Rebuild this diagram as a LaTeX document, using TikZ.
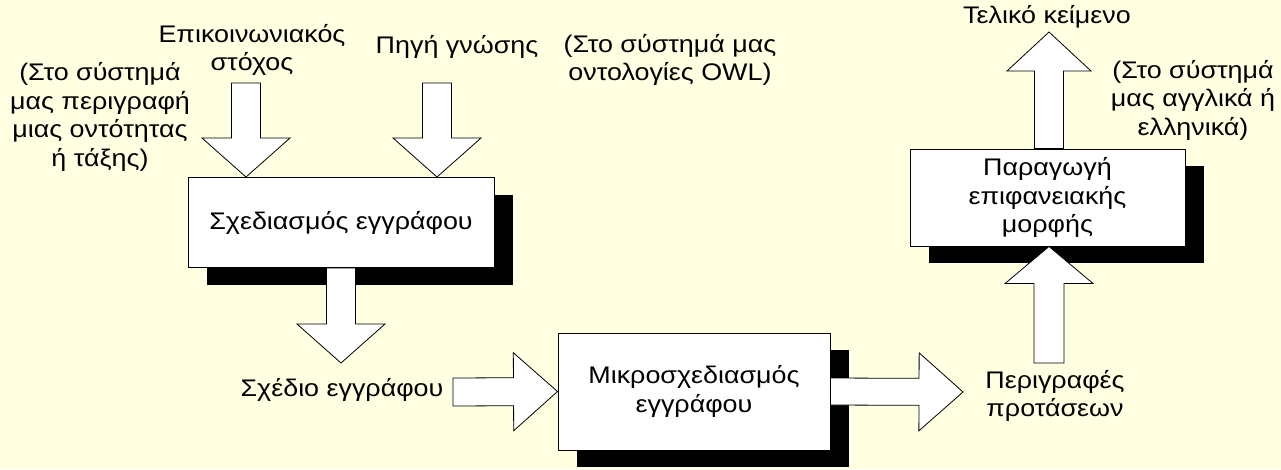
\documentclass[tikz,border=0pt]{standalone}
\usepackage{fontspec}
\setmainfont{Liberation Sans}[FakeStretch=1.12]
\usepackage{xcolor}
\definecolor{paperYellow}{RGB}{255,255,226}
\usetikzlibrary{calc, shadows, positioning}
\tikzset{
  stage/.style={draw, fill=white, line width=1pt, align=center, inner sep=2pt,
    drop shadow={shadow xshift=19pt, shadow yshift=-17pt, opacity=1, fill=black}},
  txt/.style={align=center, inner sep=0pt},
  fatarrow/.style={draw, fill=white, line width=0.8pt, line join=miter},
}
% hollow block arrow: from, tip, shaft half width, head half width, head length
\newcommand{\fatarrow}[5]{%
  \path ($(#2)!#5!(#1)$) coordinate (hb);
  \draw[fatarrow] ($(#1)!#3!90:(#2)$) -- ($(hb)!#3!90:(#2)$) -- ($(hb)!#4!90:(#2)$)
    -- (#2) -- ($(hb)!#4!-90:(#2)$) -- ($(hb)!#3!-90:(#2)$) -- ($(#1)!#3!-90:(#2)$) -- cycle;
}

\begin{document}
\begin{tikzpicture}[x=1pt, y=-1pt, every node/.style={font=\fontsize{24}{28.5}\selectfont}]
\fill[paperYellow] (0,0) rectangle (1281,469);

% the three stages
\node[stage, minimum width=306pt, minimum height=90pt] (plan) at (341,222.5) {Σχεδιασμός εγγράφου};
\node[stage, minimum width=272pt, minimum height=117pt] (micro) at (694,391.5) {Μικροσχεδιασμός\\εγγράφου};
\node[stage, minimum width=275pt, minimum height=97pt] (surface) at (1047.5,197.5) {Παραγωγή\\επιφανειακής\\μορφής};

% inputs and outputs
\node[txt] (goal) at (252,50) {Επικοινωνιακός\\στόχος};
\node[txt] (goalNote) at (100,117) {(Στο σύστημά\\μας περιγραφή\\μιας οντότητας\\ή τάξης)};
\node[txt] (source) at (457,47) {Πηγή γνώσης};
\node[txt] (sourceNote) at (670,60) {(Στο σύστημά μας\\οντολογίες OWL)};
\node[txt] (docPlan) at (342,390) {Σχέδιο εγγράφου};
\node[txt] (sentences) at (1055,396) {Περιγραφές\\προτάσεων};
\node[txt] (finalText) at (1047,17) {Τελικό κείμενο};
\node[txt] (langNote) at (1193,100) {(Στο σύστημά\\μας αγγλικά ή\\ελληνικά)};

\coordinate (goalIn) at (246,83);
\coordinate (sourceIn) at (437,83);
\coordinate (planOut) at (341,363);
\coordinate (docIn) at (453,392);
\coordinate (sentOut) at (963,392);
\coordinate (sentIn) at (1049,363);
\coordinate (textOut) at (1049,32);

\fatarrow{goalIn}{goalIn |- plan.north}{14.5pt}{44pt}{39pt}
\fatarrow{sourceIn}{sourceIn |- plan.north}{14.5pt}{44pt}{39pt}
\fatarrow{plan.south}{planOut}{14.5pt}{44pt}{39pt}
\fatarrow{docIn}{micro.west}{14pt}{39pt}{44pt}
\fatarrow{micro.east}{sentOut}{13.5pt}{39pt}{44pt}
\fatarrow{sentIn}{sentIn |- surface.south}{15pt}{44pt}{37pt}
\fatarrow{surface.north -| textOut}{textOut}{14.5pt}{42pt}{39pt}
\end{tikzpicture}
\end{document}
